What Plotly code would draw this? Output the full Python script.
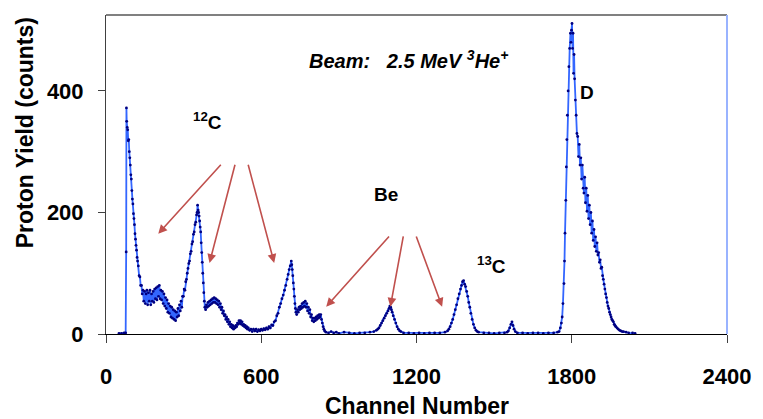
import plotly.graph_objects as go

# ---- data ----
channels = [
    50, 60, 70, 76, 78, 79, 80, 82, 84, 86, 88, 90, 92, 94, 96, 98, 100, 102, 104, 106, 108, 110,
    112, 114, 116, 118, 120, 122, 125, 128, 131, 134, 137, 140, 143, 146, 149, 152, 155, 158, 161,
    164, 167, 170, 173, 176, 179, 182, 185, 188, 191, 194, 197, 200, 203, 206, 209, 212, 215, 218,
    221, 224, 227, 230, 233, 236, 239, 242, 245, 248, 251, 254, 257, 260, 263, 266, 269, 272, 275,
    278, 281, 284, 287, 290, 293, 296, 299, 302, 305, 308, 311, 314, 317, 320, 323, 326, 329, 332,
    335, 338, 341, 344, 347, 350, 352, 354, 356, 358, 360, 362, 364, 366, 368, 370, 372, 374, 376,
    378, 380, 382, 385, 388, 391, 394, 397, 400, 403, 406, 409, 412, 415, 418, 421, 424, 427, 430,
    433, 436, 439, 442, 445, 448, 451, 454, 457, 460, 463, 466, 469, 472, 475, 478, 481, 484, 487,
    490, 493, 496, 499, 502, 505, 508, 511, 514, 517, 520, 523, 526, 529, 532, 535, 538, 541, 544,
    547, 550, 555, 560, 565, 570, 575, 580, 585, 590, 595, 600, 605, 610, 615, 620, 625, 630, 635,
    640, 645, 650, 655, 660, 665, 670, 675, 680, 685, 690, 695, 700, 704, 708, 712, 716, 718, 720,
    722, 724, 726, 728, 730, 732, 734, 737, 740, 743, 746, 749, 752, 755, 758, 761, 764, 767, 770,
    773, 776, 779, 782, 785, 788, 791, 794, 797, 800, 803, 806, 809, 812, 815, 818, 821, 824, 827,
    830, 833, 836, 839, 842, 845, 850, 860, 870, 880, 890, 900, 920, 940, 960, 980, 1000, 1020,
    1035, 1045, 1050, 1055, 1060, 1065, 1070, 1075, 1080, 1085, 1090, 1094, 1097, 1100, 1103, 1106,
    1110, 1115, 1120, 1125, 1130, 1135, 1140, 1150, 1170, 1190, 1210, 1230, 1250, 1270, 1290, 1310,
    1320, 1325, 1330, 1335, 1340, 1345, 1350, 1355, 1360, 1365, 1370, 1374, 1378, 1382, 1386, 1390,
    1394, 1398, 1402, 1406, 1410, 1415, 1420, 1425, 1430, 1435, 1440, 1460, 1480, 1500, 1520, 1540,
    1550, 1555, 1560, 1565, 1569, 1573, 1577, 1582, 1590, 1610, 1630, 1650, 1670, 1690, 1710, 1730,
    1745, 1751, 1756, 1760, 1763, 1766, 1770, 1772, 1774, 1777, 1779, 1781, 1783, 1786, 1789, 1792,
    1795, 1797, 1799, 1801, 1803, 1805, 1807, 1809, 1811, 1814, 1817, 1820, 1823, 1826, 1829, 1832,
    1835, 1838, 1841, 1844, 1847, 1850, 1853, 1856, 1859, 1862, 1865, 1868, 1871, 1874, 1877, 1880,
    1883, 1886, 1889, 1892, 1895, 1898, 1901, 1904, 1907, 1910, 1913, 1916, 1919, 1922, 1925, 1928,
    1931, 1934, 1937, 1940, 1943, 1946, 1949, 1952, 1955, 1958, 1961, 1964, 1967, 1970, 1975, 1980,
    1985, 1990, 1995, 2000, 2010, 2020, 2035, 2045,
]
counts = [
    1, 1, 2, 2, 135, 372, 350, 340, 336, 318, 320, 300, 290, 278, 262, 255, 236, 222, 214, 198, 190, 180,
    165, 156, 146, 138, 126, 120, 112, 96, 94, 80, 80, 66, 72, 54, 70, 50, 66, 72, 48,
    68, 54, 72, 48, 66, 54, 70, 52, 74, 58, 76, 56, 78, 62, 80, 58, 72, 56, 70,
    50, 66, 46, 60, 42, 56, 36, 50, 34, 46, 28, 44, 26, 40, 24, 38, 22, 36, 28,
    42, 30, 48, 38, 54, 44, 62, 62, 74, 72, 86, 90, 100, 108, 116, 120, 132, 136, 148,
    152, 164, 168, 180, 184, 196, 200, 212, 204, 200, 194, 186, 176, 168, 150, 134, 118, 100, 84,
    68, 54, 44, 40, 48, 44, 52, 46, 54, 48, 56, 50, 58, 52, 60, 52, 58, 50, 56,
    48, 54, 44, 50, 40, 44, 34, 38, 30, 32, 24, 28, 20, 24, 16, 20, 12, 16, 10,
    14, 8, 12, 10, 14, 12, 18, 16, 22, 18, 22, 16, 20, 14, 16, 12, 14, 10, 12,
    8, 10, 6, 8, 4, 8, 5, 8, 4, 7, 5, 8, 6, 9, 7, 10, 8, 12, 10,
    15, 14, 20, 22, 30, 34, 44, 50, 58, 64, 72, 80, 90, 98, 106, 112, 120, 114, 106,
    96, 84, 74, 62, 50, 42, 36, 32, 40, 36, 44, 40, 46, 42, 50, 44, 52, 46, 54,
    44, 50, 38, 44, 34, 40, 28, 32, 22, 26, 20, 26, 22, 28, 24, 30, 26, 32, 28,
    32, 24, 18, 12, 8, 5, 3, 2, 4, 2, 3, 1, 3, 2, 1, 2, 2, 3,
    4, 6, 8, 10, 14, 18, 22, 26, 30, 34, 38, 42, 46, 44, 40, 36,
    30, 24, 18, 12, 8, 5, 4, 2, 2, 1, 2, 1, 2, 2, 2, 3,
    5, 8, 12, 18, 24, 32, 40, 48, 58, 66, 74, 80, 86, 88, 82, 78,
    70, 62, 52, 44, 34, 24, 16, 10, 6, 4, 3, 2, 2, 1, 2, 2,
    3, 5, 10, 16, 20, 14, 8, 4, 2, 2, 1, 2, 2, 1, 2, 2,
    3, 4, 10, 18, 28, 50, 83, 120, 166, 220, 275, 320, 360, 400, 440, 470,
    495, 480, 500, 511, 470, 495, 429, 460, 420, 385, 360, 330, 325, 292, 312, 278,
    290, 255, 278, 240, 232, 258, 216, 240, 202, 228, 190, 212, 180, 200, 166, 186,
    154, 172, 144, 160, 136, 150, 130, 134, 118, 122, 108, 110, 96, 90, 82, 74,
    66, 60, 52, 46, 42, 36, 32, 28, 24, 22, 20, 16, 14, 12, 10, 8,
    6, 5, 4, 4, 3, 2, 2, 1,
]

x_ticks = [0, 600, 1200, 1800, 2400]
y_ticks = [0, 200, 400]

# labels: (text, channel, counts)
peak_labels = [
    ("<sup>12</sup>C", 393, 351),
    ("Be", 1083, 229),
    ("<sup>13</sup>C", 1491, 114),
    ("D", 1858, 397),
]
beam_label = ("<i>Beam:&nbsp;&nbsp;&nbsp;2.5 MeV <sup>3</sup>He<sup>+</sup></i>", 1170, 451)

# arrows: (tail channel, tail counts, head channel, head counts)
arrows = [
    (449, 281, 202, 165),
    (500, 281, 400, 117),
    (548, 281, 650, 117),
    (1099, 163, 851, 45),
    (1150, 163, 1099, 45),
    (1197, 163, 1299, 45),
]

FONT = "Liberation Sans, Arial, sans-serif"

fig = go.Figure()
fig.add_trace(go.Scatter(
    x=channels, y=counts, mode="lines+markers",
    line=dict(color="#3366FF", width=1.8),
    marker=dict(color="#000080", size=2.8),
    showlegend=False, hoverinfo="x+y",
))

for text, cx, cy in peak_labels:
    fig.add_annotation(x=cx, y=cy, xref="x", yref="y", text=text, showarrow=False,
                       font=dict(family=FONT, size=19, color="black", weight="bold"))
fig.add_annotation(x=beam_label[1], y=beam_label[2], xref="x", yref="y", text=beam_label[0],
                   showarrow=False, font=dict(family=FONT, size=20, color="black", weight="bold"))

for tx, ty, hx, hy in arrows:
    fig.add_annotation(x=hx, y=hy, ax=tx, ay=ty, xref="x", yref="y", axref="x", ayref="y",
                       text="", showarrow=True, arrowhead=2, arrowsize=1.1, arrowwidth=1.6,
                       arrowcolor="#C0504D")

# axis titles
fig.add_annotation(x=0.5, y=-0.226, xref="paper", yref="paper", yanchor="middle",
                   text="Channel Number", showarrow=False,
                   font=dict(family=FONT, size=23, color="black", weight="bold"))
fig.add_annotation(x=-0.130, y=0.63, xref="paper", yref="paper", xanchor="center", yanchor="middle",
                   text="Proton Yield (counts)", textangle=-90, showarrow=False,
                   font=dict(family=FONT, size=23, color="black", weight="bold"))

# top and right border
fig.add_shape(type="line", xref="paper", yref="paper", x0=0, x1=1, y0=1, y1=1,
              line=dict(color="#808080", width=2))
fig.add_shape(type="line", xref="paper", yref="paper", x0=1, x1=1, y0=0, y1=1,
              line=dict(color="#99B3FF", width=2))

fig.update_layout(
    width=763, height=419,
    margin=dict(l=106, r=28, t=15, b=85),
    paper_bgcolor="white", plot_bgcolor="white",
    xaxis=dict(range=[0, 2400], tickvals=x_ticks, ticktext=[str(v) for v in x_ticks],
               showgrid=False, zeroline=False, showline=True, linecolor="black", linewidth=1.2,
               ticks="outside", ticklen=8, tickcolor="#404040", tickwidth=1,
               ticklabelstandoff=14,
               tickfont=dict(family=FONT, size=22, color="black", weight="bold")),
    yaxis=dict(range=[0, 525], tickvals=y_ticks, ticktext=[str(v) for v in y_ticks],
               showgrid=False, zeroline=False, showline=True, linecolor="#404040", linewidth=1,
               ticks="outside", ticklen=7, tickcolor="#404040", tickwidth=1,
               ticklabelstandoff=10,
               tickfont=dict(family=FONT, size=22, color="black", weight="bold")),
)

fig.write_html("out.html")
